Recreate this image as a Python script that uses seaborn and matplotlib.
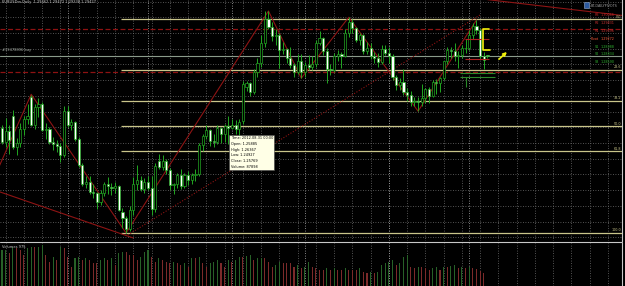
import numpy as np
import pandas as pd
import matplotlib
matplotlib.use("Agg")
import matplotlib.pyplot as plt
import seaborn as sns
from matplotlib.ticker import MultipleLocator, FixedLocator
from matplotlib.patches import Rectangle

# ---------------- data (EURUSDm, Daily) ----------------
opens = [1.2575, 1.2505, 1.2560, 1.2640, 1.2480, 1.2500, 1.2570, 1.2620, 1.2735, 1.2590,
         1.2685, 1.2700, 1.2565, 1.2570, 1.2505, 1.2495, 1.2485, 1.2440, 1.2665, 1.2590,
         1.2605, 1.2520, 1.2390, 1.2290, 1.2300, 1.2250, 1.2245, 1.2200, 1.2245, 1.2290,
         1.2275, 1.2270, 1.2280, 1.2150, 1.2120, 1.2060, 1.2160, 1.2290, 1.2310, 1.2265,
         1.2300, 1.2270, 1.2165, 1.2410, 1.2380, 1.2410, 1.2365, 1.2285, 1.2290, 1.2335,
         1.2280, 1.2335, 1.2310, 1.2335, 1.2340, 1.2490, 1.2535, 1.2565, 1.2510, 1.2505,
         1.2575, 1.2545, 1.25885, 1.2577, 1.2590, 1.2570, 1.2610, 1.2785, 1.2805, 1.2760,
         1.2860, 1.2905, 1.3010, 1.3130, 1.3090, 1.3045, 1.3050, 1.2975, 1.2980, 1.2935,
         1.2895, 1.2860, 1.2920, 1.2860, 1.2895, 1.2885, 1.2900, 1.3010, 1.3035, 1.2970,
         1.2875, 1.2870, 1.2945, 1.2955, 1.2945, 1.3060, 1.3115, 1.3085, 1.3025, 1.3050,
         1.2970, 1.2985, 1.2945, 1.2935, 1.2910, 1.2980, 1.2960, 1.2945, 1.2835, 1.2795,
         1.2810, 1.2760, 1.2745, 1.2710, 1.2715, 1.2710, 1.2730, 1.2775, 1.2740, 1.2810,
         1.2805, 1.2830, 1.2915, 1.2975, 1.2970, 1.2945, 1.2950, 1.2985, 1.2985, 1.3050,
         1.3095, 1.3075, 1.2945, 1.29462]
highs = [1.2590, 1.2625, 1.2590, 1.2670, 1.2525, 1.2600, 1.2635, 1.2700, 1.2745, 1.2700,
         1.2730, 1.2710, 1.2600, 1.2580, 1.2530, 1.2515, 1.2500, 1.2690, 1.2690, 1.2620,
         1.2610, 1.2530, 1.2400, 1.2330, 1.2330, 1.2290, 1.2250, 1.2260, 1.2300, 1.2325,
         1.2295, 1.2300, 1.2285, 1.2170, 1.2130, 1.2180, 1.2325, 1.2390, 1.2330, 1.2320,
         1.2330, 1.2330, 1.2400, 1.2445, 1.2440, 1.2420, 1.2375, 1.2295, 1.2345, 1.2370,
         1.2345, 1.2360, 1.2345, 1.2370, 1.2500, 1.2545, 1.2590, 1.2570, 1.2545, 1.2590,
         1.2580, 1.2595, 1.26367, 1.2620, 1.2615, 1.2620, 1.2815, 1.2815, 1.2810, 1.2875,
         1.2935, 1.3050, 1.3170, 1.3172, 1.3115, 1.3080, 1.3060, 1.3015, 1.2985, 1.2990,
         1.2905, 1.2955, 1.2955, 1.2910, 1.2950, 1.2945, 1.3025, 1.3070, 1.3040, 1.2985,
         1.2900, 1.2960, 1.2975, 1.2965, 1.3080, 1.3140, 1.3130, 1.3090, 1.3060, 1.3055,
         1.3015, 1.3010, 1.2965, 1.2960, 1.3000, 1.3000, 1.2990, 1.2955, 1.2845, 1.2830,
         1.2875, 1.2780, 1.2765, 1.2735, 1.2735, 1.2800, 1.2780, 1.2785, 1.2820, 1.2825,
         1.2835, 1.2920, 1.2990, 1.2990, 1.3010, 1.2970, 1.3000, 1.3030, 1.3075, 1.3110,
         1.3127, 1.3085, 1.2965, 1.29472]
lows = [1.2495, 1.2480, 1.2445, 1.2470, 1.2440, 1.2480, 1.2540, 1.2595, 1.2585, 1.2570,
        1.2630, 1.2560, 1.2520, 1.2495, 1.2465, 1.2455, 1.2405, 1.2430, 1.2580, 1.2565,
        1.2510, 1.2380, 1.2280, 1.2270, 1.2240, 1.2220, 1.2165, 1.2185, 1.2230, 1.2240,
        1.2235, 1.2245, 1.2155, 1.2065, 1.2042, 1.2050, 1.2135, 1.2260, 1.2255, 1.2245,
        1.2260, 1.2135, 1.2150, 1.2370, 1.2365, 1.2340, 1.2260, 1.2240, 1.2270, 1.2265,
        1.2270, 1.2285, 1.2290, 1.2305, 1.2330, 1.2460, 1.2520, 1.2485, 1.2480, 1.2495,
        1.2500, 1.2505, 1.24927, 1.2570, 1.2545, 1.2530, 1.2595, 1.2765, 1.2740, 1.2750,
        1.2835, 1.2885, 1.2990, 1.3080, 1.3020, 1.3000, 1.2880, 1.2955, 1.2905, 1.2880,
        1.2835, 1.2850, 1.2830, 1.2835, 1.2870, 1.2870, 1.2885, 1.3000, 1.2950, 1.2805,
        1.2845, 1.2860, 1.2920, 1.2880, 1.2940, 1.3040, 1.3060, 1.3015, 1.3000, 1.2955,
        1.2955, 1.2930, 1.2905, 1.2885, 1.2900, 1.2950, 1.2905, 1.2820, 1.2770, 1.2770,
        1.2745, 1.2715, 1.2690, 1.2690, 1.2662, 1.2690, 1.2705, 1.2705, 1.2735, 1.2750,
        1.2760, 1.2820, 1.2900, 1.2935, 1.2920, 1.2880, 1.2935, 1.2960, 1.2975, 1.3030,
        1.3055, 1.2935, 1.2877, 1.29338]
closes = [1.2505, 1.2560, 1.2515, 1.2480, 1.2500, 1.2570, 1.2620, 1.2640, 1.2590, 1.2685,
          1.2700, 1.2565, 1.2570, 1.2505, 1.2495, 1.2485, 1.2440, 1.2665, 1.2590, 1.2605,
          1.2520, 1.2390, 1.2290, 1.2300, 1.2250, 1.2245, 1.2200, 1.2245, 1.2290, 1.2280,
          1.2270, 1.2280, 1.2160, 1.2120, 1.2060, 1.2160, 1.2290, 1.2310, 1.2265, 1.2300,
          1.2270, 1.2165, 1.2385, 1.2380, 1.2410, 1.2365, 1.2285, 1.2290, 1.2335, 1.2280,
          1.2335, 1.2310, 1.2335, 1.2340, 1.2490, 1.2535, 1.2565, 1.2510, 1.2505, 1.2575,
          1.2545, 1.2585, 1.25769, 1.2590, 1.2570, 1.2605, 1.2800, 1.2805, 1.2760, 1.2860,
          1.2905, 1.3010, 1.3130, 1.3090, 1.3045, 1.3050, 1.2975, 1.2980, 1.2935, 1.2895,
          1.2860, 1.2920, 1.2860, 1.2895, 1.2885, 1.2900, 1.3010, 1.3035, 1.2970, 1.2875,
          1.2870, 1.2945, 1.2955, 1.2945, 1.3060, 1.3115, 1.3085, 1.3025, 1.3050, 1.2970,
          1.2985, 1.2945, 1.2935, 1.2910, 1.2980, 1.2960, 1.2945, 1.2835, 1.2795, 1.2810,
          1.2760, 1.2745, 1.2710, 1.2715, 1.2710, 1.2730, 1.2775, 1.2740, 1.2810, 1.2805,
          1.2830, 1.2915, 1.2975, 1.2970, 1.2945, 1.2950, 1.2985, 1.2985, 1.3050, 1.3095,
          1.3075, 1.2945, 1.2925, 1.29427]
volumes = [121000, 122000, 110000, 133000, 127000, 121000, 105000, 127000, 133000, 132000,
           133000, 138000, 105000, 82000, 99000, 88000, 133000, 127000, 99000, 65000,
           93000, 99000, 88000, 93000, 88000, 77000, 77000, 88000, 93000, 88000,
           93000, 71000, 110000, 113000, 113000, 105000, 105000, 88000, 99000, 116000,
           122000, 99000, 82000, 93000, 88000, 82000, 77000, 82000, 77000, 71000,
           77000, 65000, 93000, 93000, 99000, 77000, 65000, 77000, 82000, 88000,
           77000, 65000, 87898, 82000, 88000, 99000, 99000, 101000, 105000, 88000,
           93000, 96000, 93000, 82000, 65000, 71000, 82000, 77000, 77000, 77000,
           65000, 71000, 60000, 65000, 82000, 65000, 60000, 54000, 54000, 60000,
           54000, 60000, 54000, 54000, 60000, 54000, 54000, 54000, 60000, 48000,
           43000, 48000, 43000, 48000, 71000, 77000, 82000, 88000, 71000, 77000, 99000, 105000,
           65000, 60000, 65000, 65000, 60000, 54000, 60000, 65000, 54000, 65000,
           65000, 68000, 71000, 60000, 65000, 60000, 63000, 60000, 57000, 49000, 43000, 975]

month_starts = [18, 40, 63, 83, 106, 128]          # first bar of Jul..Dec
zigzag_bars = [-3, 8, 34, 73, 82, 95, 114, 130]
zigzag_prices = [1.2288, 1.2748, 1.2042, 1.3172, 1.2830, 1.3140, 1.2662, 1.3127]

fib_high, fib_low, fib_start = 1.3130, 1.2042, 32.6
fib_levels = [0.0, 23.6, 38.2, 50.0, 61.8, 100.0]
red_levels = [1.3080, 1.2862]
buy_price = 1.2945

pivot_names = ["R3", "R2", "R1", "Pivot", "S1", "S2", "S3"]
pivot_values = ["1.30066", "1.29831", "1.29596", "1.29272", "1.28988", "1.28834", "1.28590"]
tooltip_lines = ["Time: 2012.08.31 00:00", "Open: 1.25885", "High: 1.26367",
                 "Low: 1.24927", "Close: 1.25769", "Volume: 87898"]
header = "EURUSDm,Daily  1.29462 1.29472 1.29338 1.29427"

n = len(closes)
assert len(opens) == len(highs) == len(lows) == len(volumes) == n
df = pd.DataFrame({"i": np.arange(n), "o": opens, "h": highs, "l": lows,
                   "c": closes, "v": volumes})

# ---------------- style ----------------
sns.set_style("dark", {"axes.facecolor": "black", "figure.facecolor": "black"})
plt.rcParams["font.family"] = ["DejaVu Sans"]

W, H = 625, 286
fig = plt.figure(figsize=(W / 100, H / 100), dpi=100)
fig.patch.set_facecolor("black")

def fx(x): return x / W
def fy(y): return 1 - y / H

ax = fig.add_axes([0, fy(241), 622 / W, 241 / H])
axv = fig.add_axes([0, 0, 622 / W, 43 / H], sharex=ax)

px_per_bar = 3.65
xlim = ((0 - 2) / px_per_bar, (622 - 2) / px_per_bar)
p_per_px = 0.000509
ylim = (1.2042 - 8 * p_per_px, 1.2042 + 233 * p_per_px)

for a in (ax, axv):
    a.set_facecolor("black")
    a.set_xlim(*xlim)
    a.tick_params(length=0, labelbottom=False, labelleft=False)
    a.xaxis.set_major_locator(MultipleLocator(5, offset=1))
    a.grid(True, color="#6e6e6e", linestyle=(0, (1, 2)), linewidth=0.6)
    for s in ("top", "left", "bottom"):
        a.spines[s].set_visible(False)
    a.spines["right"].set_color("#c8c8c8")
    a.spines["right"].set_linewidth(0.8)
    for m in month_starts:
        a.axvline(m, color="#b0b0b0", linestyle=(0, (1, 2)), linewidth=0.6, zorder=0.6)

ax.set_ylim(*ylim)
ax.yaxis.set_major_locator(MultipleLocator(0.008, offset=0.002))
axv.set_ylim(0, 145000)
axv.yaxis.set_major_locator(FixedLocator([]))
axv.grid(axis="y", visible=False)

# separator between panes
fig.add_artist(plt.Line2D([0, 622 / W], [fy(242), fy(242)], color="#c8c8c8", lw=0.8))

green = "#22a822"
# ---------------- candles ----------------
up = df["c"] >= df["o"]
ax.vlines(df["i"], df["l"], df["h"], color=green, linewidth=0.7, zorder=3)
body_lo = np.minimum(df["o"], df["c"])
body_h = np.maximum(np.abs(df["c"] - df["o"]), 0.00008)
ax.bar(df["i"], body_h, bottom=body_lo, width=0.58,
       color=np.where(up, "black", "white"), edgecolor=green, linewidth=0.5, zorder=4)

# ---------------- fibonacci levels ----------------
fib_col = "#c9c58a"
for lv in fib_levels:
    p = fib_high - (fib_high - fib_low) * lv / 100
    ax.hlines(p, fib_start, xlim[1], color=fib_col, linewidth=0.9, zorder=2)
    ax.text(xlim[1] - 0.2, p + 0.0003, f"{lv:.1f}", color=fib_col, fontsize=2.4,
            ha="right", va="bottom", zorder=6)

# red dashed levels and buy line
for p in red_levels:
    ax.axhline(p, color="#8e1212", linestyle=(0, (4, 2)), linewidth=0.9, zorder=2)
ax.axhline(buy_price, color="#8a9a8a", linewidth=0.8, zorder=2)
fig.text(fx(2), fy(52.5), "#19478896 buy", color="#a8b0a8", fontsize=2.6, va="bottom")

# zigzag and trend lines
zz = pd.DataFrame({"i": zigzag_bars, "p": zigzag_prices})
sns.lineplot(data=zz, x="i", y="p", ax=ax, color="#8e1414", linewidth=0.8,
             sort=False, estimator=None, zorder=2.5)
ax.plot([-0.55, 35.9], [1.2251, 1.2017], color="#8e1414", linewidth=0.8, zorder=2.5)
ax.plot([34.5, 131.0], [1.2032, 1.3152], color="#8e1414", linewidth=0.8,
        linestyle=(0, (1, 1.5)), zorder=2.5)
ax.plot([133.0, 171.0], [1.3230, 1.3147], color="#8e1414", linewidth=0.8, zorder=2.5)

# small pivot segments near last bars
ax.hlines([1.3029, 1.2928], 126.8, 133.5, color="#b02020", linewidth=0.8, zorder=5)
ax.hlines([1.2856, 1.2836], 125.5, 135.0, color="#2a8a2a", linewidth=0.8, zorder=5)
ax.vlines(127.0, 1.2785, 1.2836, color="#2a8a2a", linewidth=0.8, zorder=5)

# yellow bracket and arrow
yb = "#f2f20a"
ax.plot([133.3, 131.8, 131.8, 133.8], [1.3078, 1.3078, 1.2973, 1.2973],
        color=yb, linewidth=1.2, zorder=7)
ax.annotate("", xy=(138.9, 1.2973), xytext=(135.6, 1.2917),
            arrowprops=dict(arrowstyle="->", color=yb, lw=1.2,
                            mutation_scale=5), zorder=7)

# ---------------- volume ----------------
vdir = ["up" if k == 0 or volumes[k] > volumes[k - 1] else "down" for k in range(n)]
df["dir"] = vdir
sns.barplot(data=df, x="i", y="v", hue="dir", palette={"up": "#1d6b1d", "down": "#8a1c1c"},
            native_scale=True, width=0.3, dodge=False, legend=False,
            errorbar=None, ax=axv, linewidth=0, zorder=3)
axv.set_xlim(*xlim)
axv.set_ylim(0, 145000)
axv.set_xlabel("")
axv.set_ylabel("")
ax.set_xlabel("")
ax.set_ylabel("")
fig.text(fx(2), fy(249), "Volumes 975", color="#c8c8c8", fontsize=2.6, va="bottom")

# ---------------- texts ----------------
fig.text(fx(2), fy(4), header, color="#c8c8c8", fontsize=2.6, va="bottom")

# tooltip
fig.add_artist(Rectangle((fx(229), fy(170)), 45 / W, 35 / H, transform=fig.transFigure,
                         facecolor="#ffffe6", edgecolor="#404040", linewidth=0.4, zorder=8))
for k, line in enumerate(tooltip_lines):
    fig.text(fx(231), fy(140 + k * 5.8), line, color="black", fontsize=2.5,
             va="bottom", zorder=9)

# pivot panel
fig.add_artist(Rectangle((fx(584), fy(7.5)), 5 / W, 5.5 / H, transform=fig.transFigure,
                         facecolor="#2c5aa0", edgecolor="#9ab0d0", linewidth=0.4))
fig.text(fx(591), fy(8), "BT-DAILYPIVOTS", color="#a0a0a0", fontsize=2.4, va="bottom")
piv_colors = ["#c02828", "#c83030", "#c83030", "#ff5a3a", "#2fb02f", "#2fb02f", "#2fb02f"]
piv_rows = [17, 25, 33, 41, 49, 56.5, 64]
for name, val, col, yy in zip(pivot_names, pivot_values, piv_colors, piv_rows):
    fig.text(fx(599), fy(yy), name, color=col, fontsize=2.4, ha="right", va="bottom")
    fig.text(fx(601), fy(yy), val, color=col, fontsize=2.4, ha="left", va="bottom")

fig.savefig("out.png", dpi=100, facecolor="black")
